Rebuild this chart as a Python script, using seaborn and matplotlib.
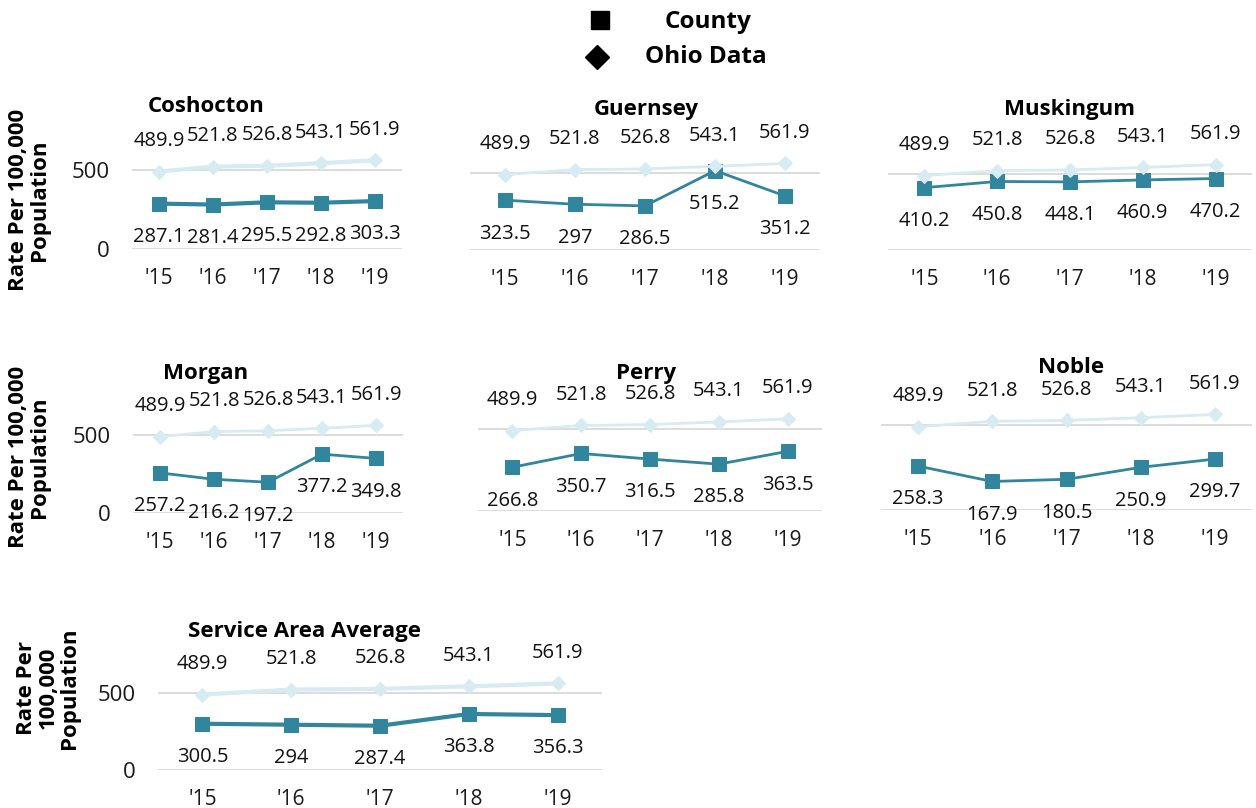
import matplotlib
matplotlib.use("Agg")
import matplotlib.pyplot as plt
import seaborn as sns
import pandas as pd
from matplotlib.lines import Line2D

# ---- data ----
years = ["'15", "'16", "'17", "'18", "'19"]
ohio = [489.9, 521.8, 526.8, 543.1, 561.9]
coshocton = [287.1, 281.4, 295.5, 292.8, 303.3]
guernsey = [323.5, 297, 286.5, 515.2, 351.2]
muskingum = [410.2, 450.8, 448.1, 460.9, 470.2]
morgan = [257.2, 216.2, 197.2, 377.2, 349.8]
perry = [266.8, 350.7, 316.5, 285.8, 363.5]
noble = [258.3, 167.9, 180.5, 250.9, 299.7]
service_area = [300.5, 294, 287.4, 363.8, 356.3]

panel_names = ["Coshocton", "Guernsey", "Muskingum", "Morgan", "Perry", "Noble",
               "Service Area Average"]
panel_values = [coshocton, guernsey, muskingum, morgan, perry, noble, service_area]

sns.set_theme(style="white")
plt.rcParams["font.family"] = ["Open Sans", "DejaVu Sans"]

W, H = 1256, 808
fig = plt.figure(figsize=(W / 100, H / 100), dpi=100)

COUNTY = "#31859C"
OHIO = "#D6EBF2"
GRID = "#D9D9D9"
YMAX = 650

# layout in pixels: left, right, y of 0-line, y of 500-line, title center x, title y,
# show y labels, county lw
layout = [
    (132, 402, 249, 170, 206, 107, True, 3.0),
    (470, 820, 250, 173, 646, 110, False, 2.0),
    (888, 1252, 250, 174, 1070, 110, False, 2.0),
    (133, 403, 513, 435, 206, 373, True, 2.0),
    (478, 822, 511, 429, 646, 373, False, 2.0),
    (881, 1252, 510, 425, 1071, 368, False, 2.0),
    (158, 602, 770, 693, 305, 631, True, 3.0),
]

ylabel_pos = [(29, 200, "Rate Per 100,000\nPopulation"),
              (29, 457, "Rate Per 100,000\nPopulation"),
              (48, 688, "Rate Per\n100,000\nPopulation")]

for name, vals, (xl, xr, y0, y5, tx, ty, showy, lw) in zip(panel_names, panel_values, layout):
    hpx = (y0 - y5) / 500 * YMAX
    ax = fig.add_axes([xl / W, 1 - y0 / H, (xr - xl) / W, hpx / H])
    df = pd.DataFrame({"year": years, "county": vals, "ohio": ohio})
    sns.lineplot(data=df, x="year", y="county", ax=ax, color=COUNTY, marker="s",
                 markersize=10, markeredgecolor=COUNTY, linewidth=lw, sort=False)
    sns.lineplot(data=df, x="year", y="ohio", ax=ax, color=OHIO, marker="D",
                 markersize=7.5, markeredgecolor=OHIO, linewidth=lw, sort=False)
    ax.set_xlim(-0.5, len(years) - 0.5)
    ax.set_ylim(0, YMAX)
    ax.set_yticks([0, 500])
    ax.grid(axis="y", color=GRID, linewidth=1.3)
    ax.set_axisbelow(True)
    for s in ax.spines.values():
        s.set_visible(False)
    ax.tick_params(axis="x", length=0, pad=14, labelsize=15, colors="#1a1a1a")
    ax.tick_params(axis="y", length=0, pad=16, labelsize=16, colors="#1a1a1a")
    if not showy:
        ax.set_yticklabels([])
    ax.set_xlabel("")
    ax.set_ylabel("")
    for i, (c, o) in enumerate(zip(vals, ohio)):
        ax.annotate(f"{c:g}", (i, c), xytext=(0, -24), textcoords="offset points",
                    ha="center", va="center", fontsize=14.5, color="#111111")
        ax.annotate(f"{o:g}", (i, o), xytext=(0, 22), textcoords="offset points",
                    ha="center", va="center", fontsize=14.5, color="#111111")
    fig.text(tx / W, 1 - ty / H, name, ha="center", va="center", fontsize=16,
             fontweight="bold", color="black")

for x, y, t in ylabel_pos:
    fig.text(x / W, 1 - y / H, t, ha="center", va="center", rotation=90,
             fontsize=16, fontweight="bold", color="black", linespacing=1.0)

# legend
fig.add_artist(Line2D([600 / W], [1 - 20 / H], marker="s", markersize=13, color="black",
                      linestyle="none", transform=fig.transFigure))
fig.add_artist(Line2D([597 / W], [1 - 57 / H], marker="D", markersize=12, color="black",
                      linestyle="none", transform=fig.transFigure))
fig.text(665 / W, 1 - 22 / H, "County", ha="left", va="center", fontsize=17.5,
         fontweight="bold", color="black")
fig.text(645 / W, 1 - 57 / H, "Ohio Data", ha="left", va="center", fontsize=17.5,
         fontweight="bold", color="black")

fig.savefig("out.png", dpi=100)
